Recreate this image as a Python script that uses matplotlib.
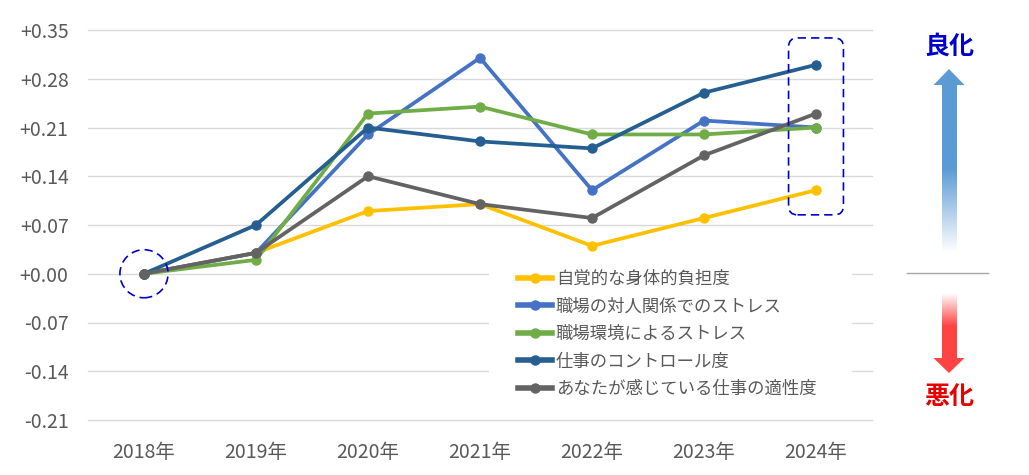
import numpy as np
import matplotlib
matplotlib.use('Agg')
import matplotlib.pyplot as plt
from matplotlib.patches import Ellipse, FancyBboxPatch, Polygon, Rectangle
from matplotlib.colors import LinearSegmentedColormap

plt.rcParams['font.family'] = ['Noto Sans CJK JP', 'DejaVu Sans']

# データ
years = ['2018年', '2019年', '2020年', '2021年', '2022年', '2023年', '2024年']
labels = ['自覚的な身体的負担度', '職場の対人関係でのストレス', '職場環境によるストレス',
          '仕事のコントロール度', 'あなたが感じている仕事の適性度']
body = [0.00, 0.03, 0.09, 0.10, 0.04, 0.08, 0.12]
relation = [0.00, 0.03, 0.20, 0.31, 0.12, 0.22, 0.21]
environment = [0.00, 0.02, 0.23, 0.24, 0.20, 0.20, 0.21]
control = [0.00, 0.07, 0.21, 0.19, 0.18, 0.26, 0.30]
aptitude = [0.00, 0.03, 0.14, 0.10, 0.08, 0.17, 0.23]
yticks = [-0.21, -0.14, -0.07, 0.00, 0.07, 0.14, 0.21, 0.28, 0.35]
ytick_labels = ['-0.21', '-0.14', '-0.07', '+0.00', '+0.07', '+0.14', '+0.21', '+0.28', '+0.35']

series = [body, relation, environment, control, aptitude]
colors = ['#FFC000', '#4472C4', '#70AD47', '#255E91', '#636363']

W, H = 1029, 475
fig = plt.figure(figsize=(W / 100, H / 100), dpi=100)
ax = fig.add_axes([88 / W, (H - 420) / H, 784 / W, 390 / H])

x = np.arange(len(years))
for vals, c, lab in zip(series, colors, labels):
    ax.plot(x, vals, color=c, lw=2.7, marker='o', ms=6.5, label=lab, zorder=3)

ax.set_xlim(-0.5, len(years) - 0.5)
ax.set_ylim(-0.21, 0.35)
ax.set_xticks(x)
ax.set_xticklabels(years)
ax.set_yticks(yticks)
ax.set_yticklabels(ytick_labels)
ax.tick_params(length=0, labelsize=14, colors='#595959')
ax.tick_params(axis='x', pad=16)
ax.tick_params(axis='y', pad=14)
ax.grid(axis='y', color='#D9D9D9', lw=1)
for gl in ax.get_ygridlines():
    gl.set_clip_on(False)
ax.set_axisbelow(True)
for s in ax.spines.values():
    s.set_visible(False)

# 凡例の白い背景
ax.add_patch(Rectangle((0.5115, 0.046), 0.463, 0.359, transform=ax.transAxes,
                       fc='white', ec='none', zorder=2))
leg = ax.legend(loc='upper left', bbox_to_anchor=(0.548, 0.385), fontsize=12.5,
                frameon=False, handlelength=2.0, handletextpad=0.2, labelspacing=0.55,
                borderpad=0, borderaxespad=0)
for t in leg.get_texts():
    t.set_color('#595959')
for h in leg.get_lines():
    h.set_linewidth(4)
leg.set_zorder(5)

# 強調枠
ax.add_patch(Ellipse((0, 0), 0.43, 0.069, fill=False, ec='#0000CC', lw=1.2,
                     ls=(0, (5, 3)), zorder=4))
asp = (0.56 / 390) / (7 / 784)
ax.add_patch(FancyBboxPatch((5.755, 0.0846), 0.49, 0.254,
                            boxstyle='round,pad=0,rounding_size=0.08',
                            mutation_aspect=asp, fill=False, ec='#0000CC', lw=1.2,
                            ls=(0, (5, 3)), zorder=4))

# 右側の矢印
ov = fig.add_axes([0, 0, 1, 1])
ov.set_xlim(0, W)
ov.set_ylim(H, 0)
ov.axis('off')

cx = 949
blue_cm = LinearSegmentedColormap.from_list('b', ['#5B9BD5', '#5B9BD5', '#FFFFFF'])
red_cm = LinearSegmentedColormap.from_list('r', ['#FFFFFF', '#FF4343', '#FF4343'])
grad = np.linspace(0, 1, 200).reshape(-1, 1)
ov.imshow(grad, cmap=blue_cm, extent=(cx - 7.5, cx + 7.5, 253, 84), aspect='auto', zorder=1)
ov.add_patch(Polygon([[cx - 15.5, 85], [cx + 15.5, 85], [cx, 69]], closed=True,
                     fc='#5B9BD5', ec='none', zorder=2))
ov.imshow(grad, cmap=red_cm, extent=(cx - 7.5, cx + 7.5, 359, 293), aspect='auto', zorder=1)
ov.add_patch(Polygon([[cx - 15.5, 358], [cx + 15.5, 358], [cx, 373]], closed=True,
                     fc='#FF4343', ec='none', zorder=2))
ov.plot([907, 988], [273, 273], color='#A6A6A6', lw=1)
ov.text(cx, 47, '良化', color='#0000CC', fontsize=18, fontweight='bold', ha='center', va='center')
ov.text(cx, 397, '悪化', color='#E60000', fontsize=18, fontweight='bold', ha='center', va='center')
ov.set_xlim(0, W)
ov.set_ylim(H, 0)

fig.savefig('out.png', dpi=100)
